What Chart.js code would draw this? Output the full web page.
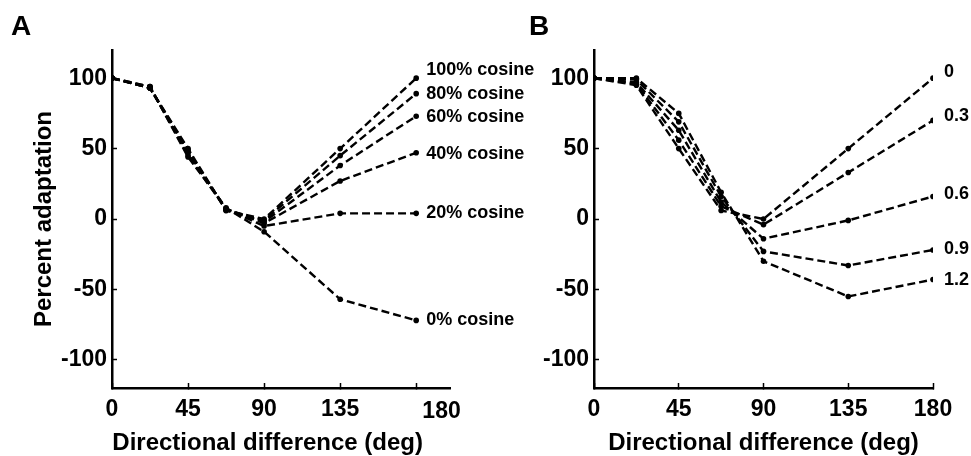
<!DOCTYPE html>
<html>
<head>
<meta charset="utf-8">
<script src="https://cdn.jsdelivr.net/npm/chart.js@4.4.0/dist/chart.umd.min.js"></script>
<style>
  html, body { margin: 0; padding: 0; background: #fff; }
  body { width: 971px; height: 456px; position: relative; overflow: hidden; font-family: "Liberation Sans", Arial, sans-serif; }
  canvas { position: absolute; top: 0; }
  .letter { position: absolute; font-weight: bold; font-size: 28px; line-height: 28px; color: #000; }
</style>
</head>
<body>
<canvas id="chartA" width="560" height="456" style="left:0"></canvas>
<canvas id="chartB" width="486" height="456" style="left:485px"></canvas>
<div class="letter" style="left:11px; top:12px;">A</div>
<div class="letter" style="left:529px; top:12px;">B</div>
<script>
// directional difference of the test direction (deg)
const angles = [0, 22.5, 45, 67.5, 90, 135, 180];

// panel A: mixing in a cosine component
const namesA = ["100% cosine", "80% cosine", "60% cosine", "40% cosine", "20% cosine", "0% cosine"];
const cos100 = [100, 93, 50, 6, 0, 50, 100];
const cos80 = [100, 93, 49, 6, -1, 45, 89];
const cos60 = [100, 93, 48, 7, -2, 38, 73];
const cos40 = [100, 93, 47, 7, -3, 27, 47];
const cos20 = [100, 94, 45, 7, -5, 4, 4];
const cos0 = [100, 94, 44, 8, -9, -57, -72];

// panel B: different parameter values
const namesB = ["0", "0.3", "0.6", "0.9", "1.2"];
const b00 = [100, 95, 50, 6, 0, 50, 100];
const b03 = [100, 96, 56, 9, -4, 33, 70];
const b06 = [100, 97, 63, 12, -14, -1, 16];
const b09 = [100, 99, 69, 16, -23, -33, -22];
const b12 = [100, 100, 75, 19, -30, -55, -43];

// tick labels
const yTicks = [-100, -50, 0, 50, 100];
const xTicksA = [0, 45, 90, 135, 180, 195];
const xLabelsA = ["0", "45", "90", "135", "", "180"];
const xTicksB = [0, 45, 90, 135, 180];
const xLabelsB = ["0", "45", "90", "135", "180"];

const FONT = "'Liberation Sans', Arial, Helvetica, sans-serif";
Chart.defaults.font.family = FONT;
Chart.defaults.font.weight = "bold";
Chart.defaults.color = "#000";

// names next to the last point of each curve
const endLabels = {
  id: "endLabels",
  afterDatasetsDraw(chart, args, opts) {
    const ctx = chart.ctx;
    ctx.save();
    ctx.font = "bold 18px " + FONT;
    ctx.fillStyle = "#000";
    ctx.textAlign = "left";
    ctx.textBaseline = "middle";
    chart.data.datasets.forEach((ds, i) => {
      const meta = chart.getDatasetMeta(i);
      const pt = meta.data[meta.data.length - 1];
      ctx.fillText(ds.label, pt.x + opts.dx, pt.y + (opts.dy[i] || 0));
    });
    ctx.restore();
  }
};

function makeDatasets(names, series) {
  return series.map((vals, i) => ({
    label: names[i],
    data: angles.map((a, j) => ({ x: a, y: vals[j] })),
    showLine: true,
    borderColor: "#000",
    borderWidth: 2.4,
    borderDash: [8, 4],
    pointRadius: 2.8,
    pointBorderWidth: 0,
    pointBackgroundColor: "#000",
    fill: false
  }));
}

function makeChart(id, opt) {
  return new Chart(document.getElementById(id), {
    type: "scatter",
    data: { datasets: makeDatasets(opt.names, opt.series) },
    options: {
      responsive: false,
      animation: false,
      layout: { padding: { top: 50, right: opt.padRight, left: 0, bottom: 0 } },
      plugins: {
        legend: { display: false },
        tooltip: { enabled: false },
        endLabels: { dx: opt.labelDx, dy: opt.labelDy }
      },
      scales: {
        x: {
          type: "linear",
          min: 0,
          max: opt.xMax,
          afterBuildTicks: s => { s.ticks = opt.xTicks.map(v => ({ value: v })); },
          afterFit: s => { s.height = 68; },
          ticks: {
            autoSkip: false,
            maxRotation: 0,
            padding: 13,
            font: ctx => ({ size: 23, weight: "bold", lineHeight: ctx.index === opt.lowLabel ? 1.35 : 1.2 }),
            callback: (v, i) => opt.xLabels[i]
          },
          grid: {
            drawOnChartArea: false,
            tickLength: -5,
            tickWidth: 1.5,
            tickColor: ctx => (ctx.tick && ctx.tick.value <= 180) ? "#000" : "rgba(0,0,0,0)"
          },
          border: { color: "#000", width: 2.5 },
          title: {
            display: true,
            text: opt.xTitle,
            font: { size: 24, weight: "bold" },
            padding: { top: 0, bottom: -2 }
          }
        },
        y: {
          type: "linear",
          min: -120,
          max: 120,
          afterBuildTicks: s => { s.ticks = yTicks.map(v => ({ value: v })); },
          afterFit: s => { s.width = opt.yWidth; },
          ticks: {
            padding: 10,
            font: { size: 23, weight: "bold" }
          },
          grid: {
            drawOnChartArea: false,
            tickLength: -5,
            tickWidth: 1.5,
            tickColor: "#000"
          },
          border: { color: "#000", width: 2.5 },
          title: {
            display: opt.yTitle !== "",
            text: opt.yTitle,
            font: { size: 24, weight: "bold" },
            padding: { top: 30, bottom: 0 }
          }
        }
      }
    },
    plugins: [endLabels]
  });
}

makeChart("chartA", {
  names: namesA,
  series: [cos100, cos80, cos60, cos40, cos20, cos0],
  xMax: 200,
  xTicks: xTicksA,
  xLabels: xLabelsA,
  lowLabel: 5,
  // trailing spaces pull the centred title a little to the left, as in the figure
  xTitle: "Directional difference (deg)    ",
  yWidth: 112,
  padRight: 110,
  yTitle: "Percent adaptation",
  labelDx: 10,
  labelDy: [-8, 0, 1, 1, 0, 0]
});

makeChart("chartB", {
  names: namesB,
  series: [b00, b03, b06, b09, b12],
  xMax: 180,
  xTicks: xTicksB,
  xLabels: xLabelsB,
  lowLabel: -1,
  xTitle: "Directional difference (deg)",
  yWidth: 109,
  padRight: 38,
  yTitle: "",
  labelDx: 11,
  labelDy: [-6, -4, -2, -1, 0]
});
</script>
</body>
</html>
